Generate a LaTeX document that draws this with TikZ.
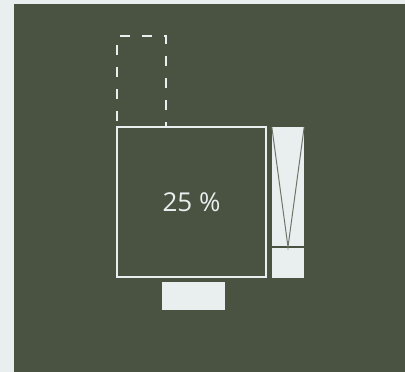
\documentclass[tikz,border=0pt]{standalone}
\usepackage{fontspec}
\setmainfont{Open Sans}
\usepackage{tikz}
\usetikzlibrary{positioning}

\definecolor{panel}{HTML}{4A5341}
\definecolor{paper}{HTML}{E9EFEF}
\definecolor{seam}{HTML}{6E7668}

\begin{document}
\begin{tikzpicture}[x=1pt, y=-1pt,
  frame/.style={rectangle, draw=paper, line width=2pt, inner sep=0pt},
  slab/.style={rectangle, fill=paper, inner sep=0pt},
  font=\fontsize{26}{28}\selectfont]

  % Background
  \fill[paper] (0,0) rectangle (405,372);
  \fill[panel] (14,4) rectangle (405,372);
  \useasboundingbox (0,0) rectangle (405,372);

  % Nodes
  \node[frame, dashed, dash pattern=on 10pt off 12pt, minimum width=49pt, minimum height=91pt] (ghost) at (141.5,81.5) {};
  \node[frame, minimum width=149pt, minimum height=150pt, text=paper] (room) at (191.5,202) {25 \%};
  \node[slab, minimum width=32pt, minimum height=151pt] (door) at (288,202.5) {};
  \node[slab, minimum width=63pt, minimum height=28pt] (sill) at (193.5,296) {};
  \coordinate (hinge) at (288,247);

  % Edges
  \draw[panel, line width=2pt] (door.west |- hinge) -- (door.east |- hinge);
  \draw[seam, line width=1pt] (door.north west) -- (hinge) -- (door.north east);

\end{tikzpicture}
\end{document}
